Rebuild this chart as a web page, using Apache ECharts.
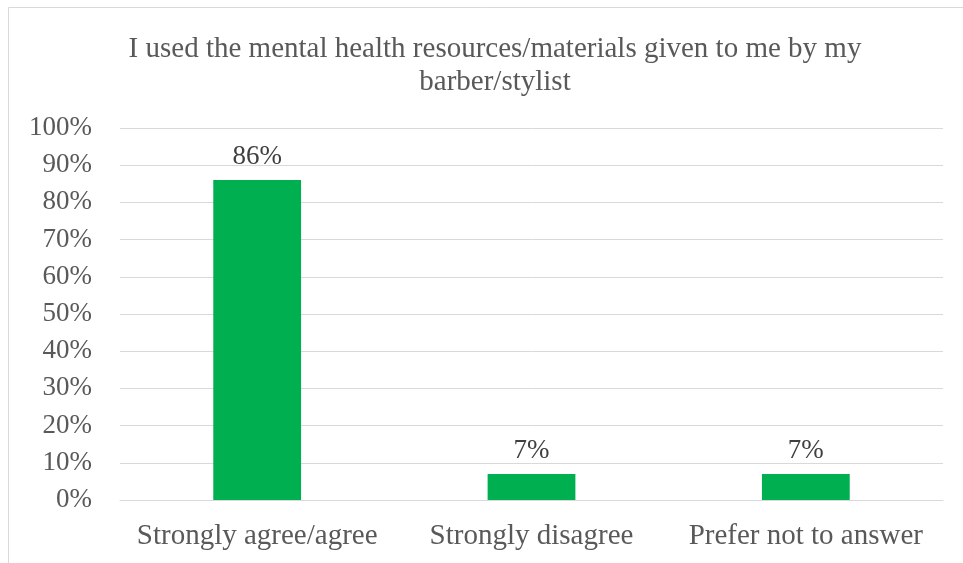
<!DOCTYPE html>
<html><head><meta charset="utf-8">
<script src="https://cdn.jsdelivr.net/npm/echarts@6/dist/echarts.min.js"></script>
<style>html,body{margin:0;padding:0;background:#fff}#c{width:963px;height:563px}</style>
</head><body><div id="c"></div>
<script>
const categories = ["Strongly agree/agree", "Strongly disagree", "Prefer not to answer"];
const values = [86, 7, 7];
const yTicks = [0, 10, 20, 30, 40, 50, 60, 70, 80, 90, 100];
const titleText = "I used the mental health resources/materials given to me by my\nbarber/stylist";

const chart = echarts.init(document.getElementById('c'), null, {renderer: 'canvas'});
const font = '"Liberation Serif", "Times New Roman", serif';
chart.setOption({
  animation: false,
  backgroundColor: '#fff',
  graphic: [{
    type: 'rect', shape: {x: 8.5, y: 7.5, width: 1000, height: 600},
    style: {fill: 'none', stroke: '#d9d9d9', lineWidth: 1}, silent: true
  }],
  title: {
    text: titleText, left: 490, top: 28, textAlign: 'center',
    textStyle: {fontFamily: font, fontSize: 29, fontWeight: 'normal', color: '#595959', lineHeight: 33}
  },
  grid: {left: 120, right: 20, top: 128, bottom: 63, containLabel: false},
  xAxis: {
    type: 'category', data: categories,
    axisLine: {show: true, lineStyle: {color: '#d9d9d9', width: 1}},
    axisTick: {show: false},
    axisLabel: {fontFamily: font, fontSize: 29, color: '#595959', margin: 22, interval: 0}
  },
  yAxis: {
    type: 'value', min: yTicks[0], max: yTicks[yTicks.length - 1], interval: 10,
    axisLine: {show: false}, axisTick: {show: false},
    splitLine: {lineStyle: {color: '#d9d9d9', width: 1}},
    axisLabel: {fontFamily: font, fontSize: 27, color: '#595959', margin: 28, formatter: v => v + '%'}
  },
  series: [{
    type: 'bar', data: values, barWidth: '32%',
    itemStyle: {color: '#00B050'},
    label: {show: true, position: 'top', distance: 10, formatter: p => p.value + '%',
      fontFamily: font, fontSize: 27, color: '#404040'}
  }]
});
</script></body></html>
